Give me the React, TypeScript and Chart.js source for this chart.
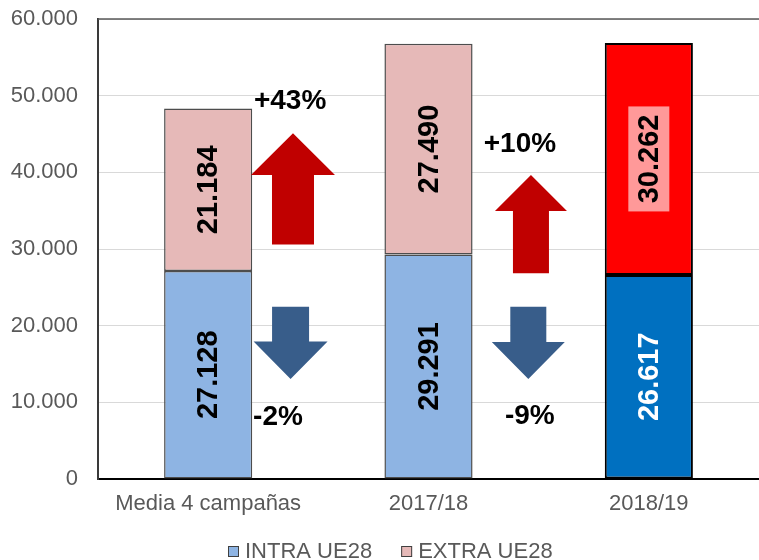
import React, { useEffect, useRef } from 'react';
import { Chart, registerables } from 'chart.js';

Chart.register(...registerables);

// ---- data ----
const categories = ['Media 4 campañas', '2017/18', '2018/19'];
const intraValues = [27128, 29291, 26617];
const extraValues = [21184, 27490, 30262];
const seriesNames = ['INTRA UE28', 'EXTRA UE28'];
const yTickValues = [0, 10000, 20000, 30000, 40000, 50000, 60000];
const changeLabels = ['+43%', '-2%', '+10%', '-9%'];

// ---- styles ----
const FONT = "'Liberation Sans', Arial, Helvetica, sans-serif";
const intraColors = ['#8EB4E3', '#8EB4E3', '#0070C0'];
const extraColors = ['#E6B9B8', '#E6B9B8', '#FF0000'];
const barBorderColors = ['#4D4D4D', '#4D4D4D', '#000000'];
const barBorderWidths = [1.5, 1.5, 2];
const legendColors = ['#8EB4E3', '#E6B9B8'];

// decorative arrows (x in category index units, y in data units)
const arrowShapes = [
  { dir: 'up', x: 0.385, from: 30600, head: 39650, tip: 45090, shaftHalf: 21, headHalf: 42, color: '#C00000' },
  { dir: 'down', x: 0.374, from: 22470, head: 17950, tip: 13040, shaftHalf: 18.5, headHalf: 37, color: '#385D8A' },
  { dir: 'up', x: 1.465, from: 26830, head: 34960, tip: 39650, shaftHalf: 18, headHalf: 36, color: '#C00000' },
  { dir: 'down', x: 1.453, from: 22470, head: 17860, tip: 13040, shaftHalf: 18, headHalf: 36.5, color: '#385D8A' },
];
const changeLabelPos = [
  { x: 0.372, y: 49300 },
  { x: 0.317, y: 8090 },
  { x: 1.415, y: 43700 },
  { x: 1.46, y: 8220 },
];

const fmt = (v: number) => String(Math.round(v)).replace(/\B(?=(\d{3})+(?!\d))/g, '.');

const overlayPlugin = {
  id: 'overlay',
  afterDatasetsDraw(chart: any) {
    const ctx = chart.ctx;
    const xs = chart.scales.x;
    const ys = chart.scales.y;
    const area = chart.chartArea;

    // top frame line
    ctx.save();
    ctx.strokeStyle = '#595959';
    ctx.lineWidth = 1.5;
    ctx.beginPath();
    ctx.moveTo(area.left, area.top);
    ctx.lineTo(chart.width, area.top);
    ctx.stroke();
    ctx.restore();

    // bar value labels
    chart.data.datasets.forEach((ds: any, i: number) => {
      const meta = chart.getDatasetMeta(i);
      meta.data.forEach((bar: any, j: number) => {
        const { x, y, base } = bar.getProps(['x', 'y', 'base'], true);
        const cy = (y + base) / 2;
        ctx.save();
        ctx.translate(x, cy);
        ctx.rotate(-Math.PI / 2);
        ctx.font = `bold 29px ${FONT}`;
        ctx.textAlign = 'center';
        ctx.textBaseline = 'middle';
        if (i === 1 && j === 2) {
          ctx.fillStyle = '#FF9999';
          ctx.fillRect(-52.5, -20.5, 105, 41);
        }
        ctx.fillStyle = i === 0 && j === 2 ? '#FFFFFF' : '#000000';
        ctx.fillText(fmt(ds.data[j]), 0, 1);
        ctx.restore();
      });
    });

    // arrows
    arrowShapes.forEach((a) => {
      const cx = xs.getPixelForValue(a.x);
      const y0 = ys.getPixelForValue(a.from);
      const yh = ys.getPixelForValue(a.head);
      const yt = ys.getPixelForValue(a.tip);
      ctx.save();
      ctx.fillStyle = a.color;
      ctx.beginPath();
      ctx.moveTo(cx - a.shaftHalf, y0);
      ctx.lineTo(cx - a.shaftHalf, yh);
      ctx.lineTo(cx - a.headHalf, yh);
      ctx.lineTo(cx, yt);
      ctx.lineTo(cx + a.headHalf, yh);
      ctx.lineTo(cx + a.shaftHalf, yh);
      ctx.lineTo(cx + a.shaftHalf, y0);
      ctx.closePath();
      ctx.fill();
      ctx.restore();
    });

    // change labels
    changeLabels.forEach((t, k) => {
      const p = changeLabelPos[k];
      ctx.save();
      ctx.font = `bold 28px ${FONT}`;
      ctx.fillStyle = '#000000';
      ctx.textAlign = 'center';
      ctx.textBaseline = 'middle';
      ctx.fillText(t, xs.getPixelForValue(p.x), ys.getPixelForValue(p.y));
      ctx.restore();
    });
  },
  afterDraw(chart: any) {
    const ctx = chart.ctx;
    ctx.save();
    ctx.font = `22px ${FONT}`;
    ctx.textBaseline = 'alphabetic';
    ctx.textAlign = 'left';
    let x = 228;
    const boxTop = 546;
    const baseline = 557.5;
    seriesNames.forEach((name, k) => {
      ctx.fillStyle = legendColors[k];
      ctx.fillRect(x, boxTop, 11, 11);
      ctx.strokeStyle = '#404040';
      ctx.lineWidth = 1;
      ctx.strokeRect(x + 0.5, boxTop + 0.5, 10, 10);
      ctx.fillStyle = '#595959';
      ctx.fillText(name, x + 17, baseline);
      x += 17 + ctx.measureText(name).width + 29;
    });
    ctx.restore();
  },
};

export default function App() {
  const ref = useRef<HTMLCanvasElement | null>(null);
  useEffect(() => {
    if (!ref.current) return;
    const chart = new Chart(ref.current, {
      type: 'bar',
      data: {
        labels: categories,
        datasets: [
          {
            label: seriesNames[0],
            data: intraValues,
            backgroundColor: intraColors,
            borderColor: barBorderColors,
            borderWidth: barBorderWidths,
            borderSkipped: false,
            barPercentage: 0.4,
            categoryPercentage: 1,
          },
          {
            label: seriesNames[1],
            data: extraValues,
            backgroundColor: extraColors,
            borderColor: barBorderColors,
            borderWidth: barBorderWidths,
            borderSkipped: false,
            barPercentage: 0.4,
            categoryPercentage: 1,
          },
        ],
      },
      options: {
        animation: false,
        responsive: false,
        maintainAspectRatio: false,
        layout: { padding: { top: 19, right: 0, left: 0, bottom: 0 } },
        plugins: {
          legend: { display: false },
          tooltip: { enabled: false },
        },
        scales: {
          x: {
            stacked: true,
            grid: { display: false, drawTicks: false },
            border: { display: true, color: '#000000', width: 2 },
            ticks: { font: { family: FONT, size: 22 }, color: '#595959', padding: 12 },
            afterFit: (s: any) => {
              s.height = 81;
            },
          },
          y: {
            stacked: true,
            min: 0,
            max: 60000,
            afterBuildTicks: (s: any) => {
              s.ticks = yTickValues.map((v) => ({ value: v }));
            },
            grid: { color: '#D9D9D9', lineWidth: 1, drawTicks: false },
            border: { display: true, color: '#3A3A3A', width: 2 },
            ticks: {
              font: { family: FONT, size: 22 },
              color: '#595959',
              padding: 20,
              callback: (v: any) => fmt(Number(v)),
            },
            afterFit: (s: any) => {
              s.width = 98;
              s.paddingTop = 19;
              s.paddingBottom = 0;
            },
          },
        },
      },
      plugins: [overlayPlugin],
    });
    return () => chart.destroy();
  }, []);

  return (
    <div style={{ position: 'fixed', left: 0, top: 0, width: 759, height: 560, background: '#FFFFFF' }}>
      <canvas ref={ref} width={759} height={560} />
    </div>
  );
}
